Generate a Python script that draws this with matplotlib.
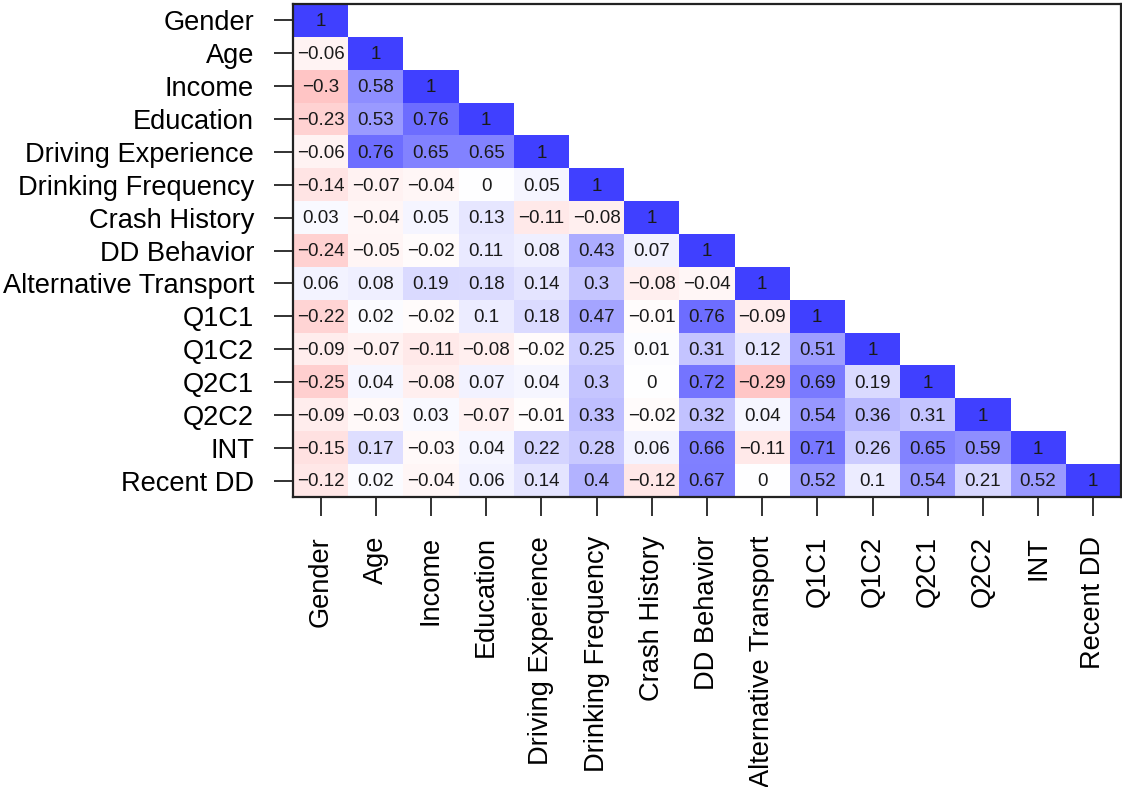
import numpy as np
import matplotlib
matplotlib.use("Agg")
import matplotlib.pyplot as plt
from matplotlib.colors import LinearSegmentedColormap

plt.rcParams["font.family"] = ["Liberation Sans", "DejaVu Sans"]

LABELS = ["Gender", "Age", "Income", "Education", "Driving Experience",
          "Drinking Frequency", "Crash History", "DD Behavior",
          "Alternative Transport", "Q1C1", "Q1C2", "Q2C1", "Q2C2", "INT",
          "Recent DD"]

# lower triangle of the correlation matrix, row by row
gender = [1]
age = [-0.06, 1]
income = [-0.3, 0.58, 1]
education = [-0.23, 0.53, 0.76, 1]
driving_exp = [-0.06, 0.76, 0.65, 0.65, 1]
drinking_freq = [-0.14, -0.07, -0.04, 0, 0.05, 1]
crash_history = [0.03, -0.04, 0.05, 0.13, -0.11, -0.08, 1]
dd_behavior = [-0.24, -0.05, -0.02, 0.11, 0.08, 0.43, 0.07, 1]
alt_transport = [0.06, 0.08, 0.19, 0.18, 0.14, 0.3, -0.08, -0.04, 1]
q1c1 = [-0.22, 0.02, -0.02, 0.1, 0.18, 0.47, -0.01, 0.76, -0.09, 1]
q1c2 = [-0.09, -0.07, -0.11, -0.08, -0.02, 0.25, 0.01, 0.31, 0.12, 0.51, 1]
q2c1 = [-0.25, 0.04, -0.08, 0.07, 0.04, 0.3, 0, 0.72, -0.29, 0.69, 0.19, 1]
q2c2 = [-0.09, -0.03, 0.03, -0.07, -0.01, 0.33, -0.02, 0.32, 0.04, 0.54,
        0.36, 0.31, 1]
int_ = [-0.15, 0.17, -0.03, 0.04, 0.22, 0.28, 0.06, 0.66, -0.11, 0.71,
        0.26, 0.65, 0.59, 1]
recent_dd = [-0.12, 0.02, -0.04, 0.06, 0.14, 0.4, -0.12, 0.67, 0, 0.52,
             0.1, 0.54, 0.21, 0.52, 1]

rows = [gender, age, income, education, driving_exp, drinking_freq,
        crash_history, dd_behavior, alt_transport, q1c1, q1c2, q2c1, q2c2,
        int_, recent_dd]

n = len(LABELS)
mat = np.full((n, n), np.nan)
for i, r in enumerate(rows):
    mat[i, :len(r)] = r
masked = np.ma.masked_invalid(mat)

cmap = LinearSegmentedColormap.from_list("rwb", ["red", "white", "blue"])

fig = plt.figure(figsize=(11.22, 7.87), dpi=100)
ax = fig.add_axes([0.2611, 0.3685, 0.7379, 0.6264])
ax.imshow(masked, cmap=cmap, vmin=-1, vmax=1, alpha=0.75,
          aspect="auto", interpolation="nearest")

for i in range(n):
    for j in range(i + 1):
        v = round(mat[i, j], 2)
        txt = f"{v:g}".replace("-", "\u2212")
        ax.text(j, i + 0.04, txt, ha="center", va="center", fontsize=13.5,
                color="#1a1a1a")

ax.set_xlim(-0.5, n - 0.5)
ax.set_ylim(n - 0.5, -0.5)
ax.set_xticks(range(n))
ax.set_yticks(range(n))
ax.set_xticklabels(LABELS, rotation=90, fontsize=19.6)
ax.set_yticklabels(LABELS, fontsize=19.6)
ax.tick_params(length=14, width=1.3, pad=14, color="#222222")
for s in ax.spines.values():
    s.set_linewidth(1.6)
    s.set_color("#222222")

fig.savefig("out.png", dpi=100)
